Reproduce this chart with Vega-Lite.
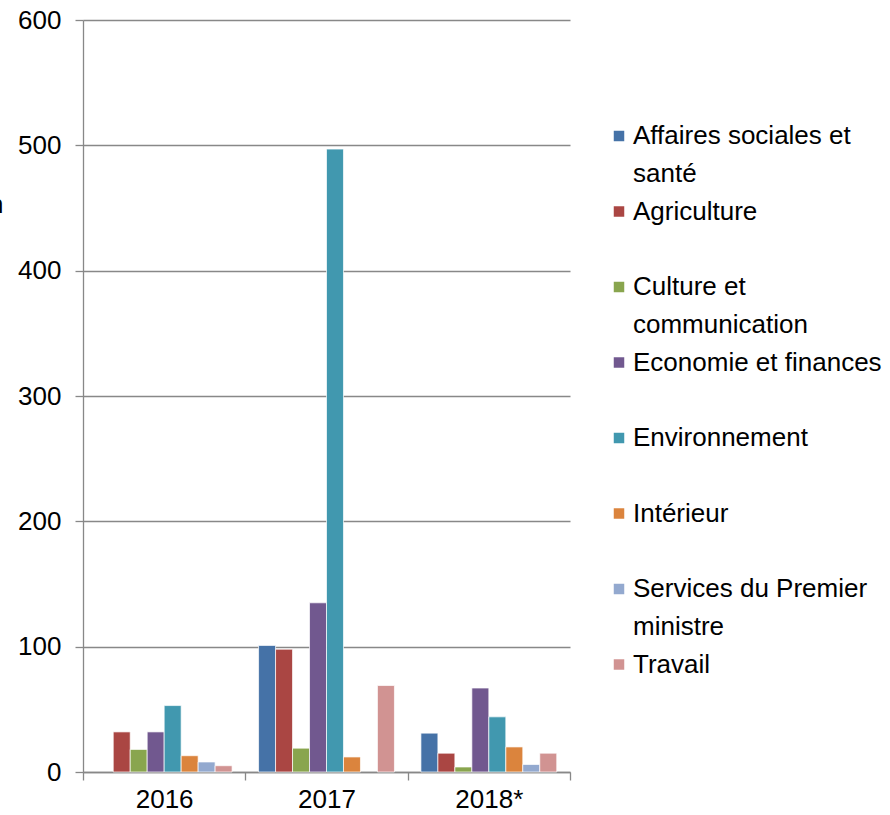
{
  "$schema": "https://vega.github.io/schema/vega-lite/v6.json",
  "autosize": "none",
  "width": 487,
  "height": 752,
  "padding": {"left": 83, "top": 20, "right": 320, "bottom": 43},
  "background": "white",
  "config": {
    "font": "Liberation Sans",
    "view": {"stroke": null},
    "style": {"guide-label": {"lineHeight": 37.5}}
  },
  "data": {
    "values": [
      {"annee": "2016", "ministere": "Agriculture", "valeur": 32},
      {"annee": "2016", "ministere": "Culture et communication", "valeur": 18},
      {"annee": "2016", "ministere": "Economie et finances", "valeur": 32},
      {"annee": "2016", "ministere": "Environnement", "valeur": 53},
      {"annee": "2016", "ministere": "Intérieur", "valeur": 13},
      {"annee": "2016", "ministere": "Services du Premier ministre", "valeur": 8},
      {"annee": "2016", "ministere": "Travail", "valeur": 5},
      {"annee": "2017", "ministere": "Affaires sociales et santé", "valeur": 101},
      {"annee": "2017", "ministere": "Agriculture", "valeur": 98},
      {"annee": "2017", "ministere": "Culture et communication", "valeur": 19},
      {"annee": "2017", "ministere": "Economie et finances", "valeur": 135},
      {"annee": "2017", "ministere": "Environnement", "valeur": 497},
      {"annee": "2017", "ministere": "Intérieur", "valeur": 12},
      {"annee": "2017", "ministere": "Travail", "valeur": 69},
      {"annee": "2018*", "ministere": "Affaires sociales et santé", "valeur": 31},
      {"annee": "2018*", "ministere": "Agriculture", "valeur": 15},
      {"annee": "2018*", "ministere": "Culture et communication", "valeur": 4},
      {"annee": "2018*", "ministere": "Economie et finances", "valeur": 67},
      {"annee": "2018*", "ministere": "Environnement", "valeur": 44},
      {"annee": "2018*", "ministere": "Intérieur", "valeur": 20},
      {"annee": "2018*", "ministere": "Services du Premier ministre", "valeur": 6},
      {"annee": "2018*", "ministere": "Travail", "valeur": 15}
    ]
  },
  "mark": {"type": "bar", "stroke": "white", "strokeWidth": 0.7},
  "encoding": {
    "x": {
      "field": "annee",
      "type": "nominal",
      "sort": ["2016", "2017", "2018*"],
      "scale": {"paddingInner": 0, "paddingOuter": 0},
      "axis": {
        "title": null,
        "labelAngle": 0,
        "labelFontSize": 26,
        "labelColor": "black",
        "labelPadding": 6,
        "tickBand": "extent",
        "tickSize": 8,
        "tickColor": "#888888",
        "tickWidth": 1.3,
        "domainColor": "#888888",
        "domainWidth": 1.3,
        "grid": false
      }
    },
    "xOffset": {
      "field": "ministere",
      "type": "nominal",
      "scale": {
        "domain": ["Affaires sociales et santé", "Agriculture", "Culture et communication", "Economie et finances", "Environnement", "Intérieur", "Services du Premier ministre", "Travail"],
        "paddingInner": 0,
        "paddingOuter": 0.78
      }
    },
    "y": {
      "field": "valeur",
      "type": "quantitative",
      "scale": {"domain": [0, 600], "nice": false},
      "axis": {
        "values": [0, 100, 200, 300, 400, 500, 600],
        "title": "n",
        "titleAngle": 0,
        "titleAlign": "right",
        "titleBaseline": "middle",
        "titleX": -80,
        "titleY": 184,
        "titleFontSize": 26,
        "titleFontWeight": "normal",
        "titleColor": "black",
        "labelFontSize": 26,
        "labelColor": "black",
        "labelPadding": 14,
        "tickSize": 8,
        "tickColor": "#888888",
        "tickWidth": 1.3,
        "domainColor": "#888888",
        "domainWidth": 1.3,
        "grid": true,
        "gridColor": "#888888",
        "gridWidth": 1.3
      }
    },
    "color": {
      "field": "ministere",
      "type": "nominal",
      "scale": {
        "domain": ["Affaires sociales et santé", "Agriculture", "Culture et communication", "Economie et finances", "Environnement", "Intérieur", "Services du Premier ministre", "Travail"],
        "range": ["#4572A7", "#AA4643", "#89A54E", "#71588F", "#4198AF", "#DB843D", "#93A9CF", "#D19392"]
      },
      "legend": {
        "title": null,
        "orient": "none",
        "legendX": 523,
        "legendY": 103,
        "padding": 0,
        "symbolType": "square",
        "symbolSize": 110,
        "symbolStrokeWidth": 0,
        "labelFontSize": 26,
        "labelColor": "black",
        "labelOffset": 1,
        "labelLimit": 400,
        "rowPadding": 11.5,
        "labelExpr": "datum.label == 'Affaires sociales et santé' ? ['Affaires sociales et', 'santé'] : datum.label == 'Culture et communication' ? ['Culture et', 'communication'] : datum.label == 'Services du Premier ministre' ? ['Services du Premier', 'ministre'] : [datum.label, '']"
      }
    }
  }
}
